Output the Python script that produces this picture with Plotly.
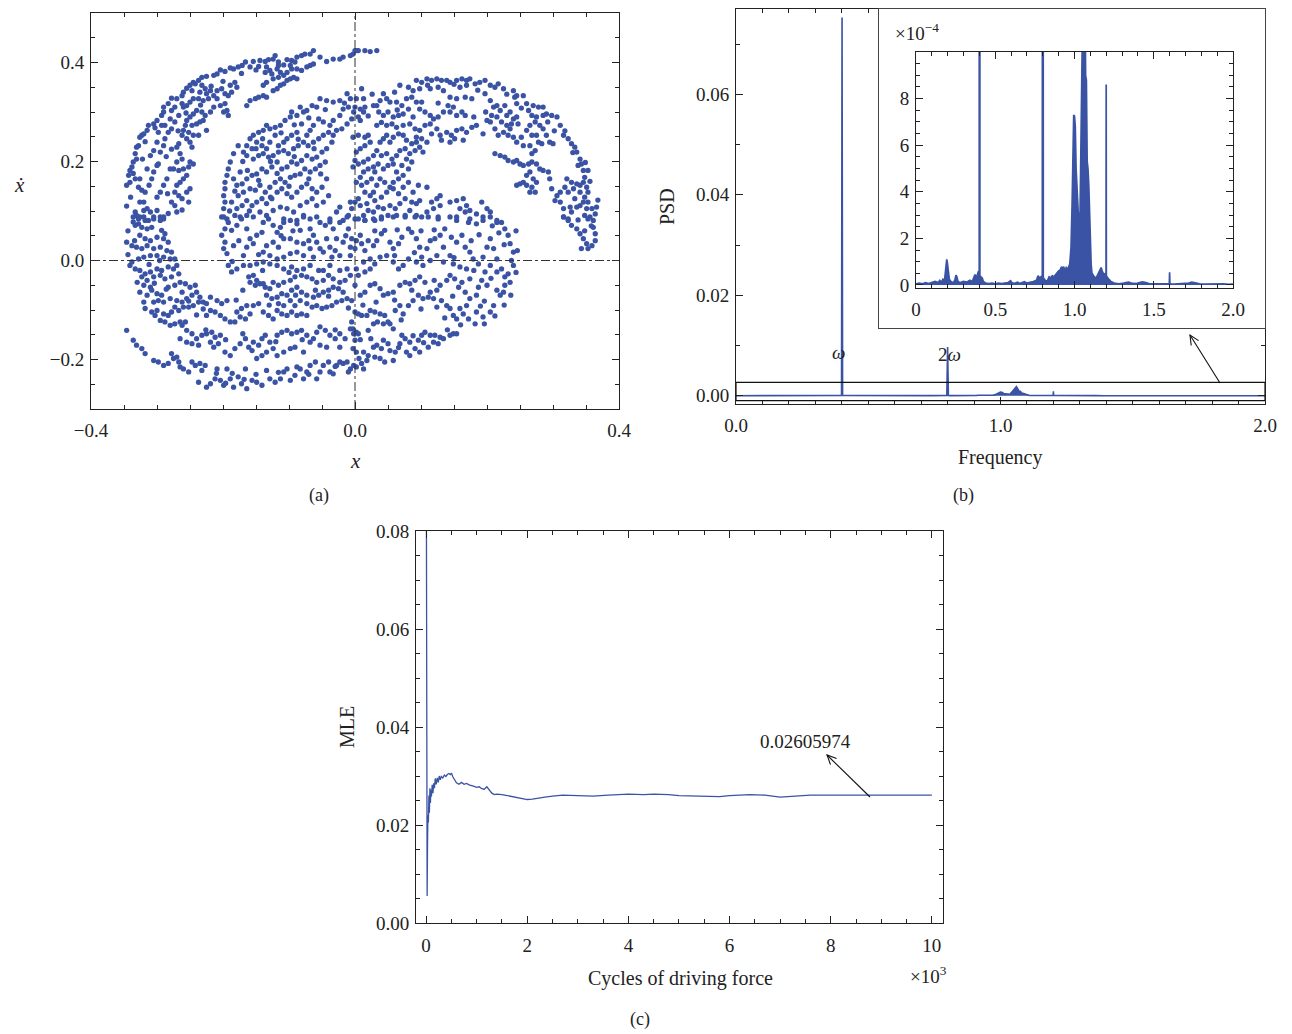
import plotly.graph_objects as go

# ---------------- Panel (a): Poincare section points (x, xdot) ----------------
OUTER_ARC = [
(0.003,0.424),(-0.007,0.414),(-0.018,0.411),(-0.023,0.407),(-0.033,0.407),(-0.043,0.402),(-0.053,0.411),(-0.063,0.424),
(-0.068,0.417),(-0.076,0.417),(-0.081,0.414),(-0.088,0.411),(-0.096,0.404),(-0.103,0.406),(-0.108,0.395),(-0.116,0.401),
(-0.121,0.414),(-0.124,0.407),(-0.131,0.406),(-0.136,0.402),(-0.144,0.404),(-0.154,0.402),(-0.159,0.391),(-0.166,0.401),
(-0.171,0.394),(-0.177,0.391),(-0.184,0.387),(-0.189,0.389),(-0.197,0.382),(-0.204,0.385),(-0.209,0.377),(-0.214,0.374),
(-0.225,0.372),(-0.232,0.370),(-0.237,0.364),(-0.245,0.360),(-0.250,0.354),(-0.255,0.348),(-0.260,0.340),(-0.262,0.333),
(-0.270,0.327),(-0.278,0.328),(-0.283,0.317),(-0.290,0.310),(-0.293,0.293),(-0.300,0.283),(-0.305,0.276),(-0.313,0.273),
(-0.315,0.263),(-0.320,0.256),(-0.323,0.253),(-0.326,0.249),(-0.328,0.232),(-0.331,0.229),(-0.333,0.216),(-0.331,0.205),
(-0.336,0.199),(-0.338,0.189),(-0.341,0.182),(-0.343,0.172),(-0.346,0.152),(-0.341,0.158),(-0.333,0.165),(-0.326,0.165),
(-0.328,0.148),(-0.323,0.142),(-0.318,0.138),(-0.320,0.118),(-0.326,0.118),(-0.333,0.098),(-0.331,0.091),(-0.326,0.088),
(-0.320,0.101),(-0.315,0.105),(-0.310,0.098),(-0.305,0.088),(-0.300,0.101),(-0.295,0.088),(-0.290,0.084),(-0.336,0.078),
(-0.328,0.074),(-0.318,0.081),
(-0.232,0.354),(-0.227,0.347),(-0.219,0.343),(-0.225,0.337),(-0.214,0.333),(-0.209,0.343),(-0.202,0.347),(-0.197,0.337),
(-0.192,0.333),(-0.187,0.340),(-0.182,0.360),(-0.179,0.350),(-0.189,0.354),(-0.235,0.340),(-0.237,0.327),(-0.230,0.323),
(-0.222,0.327),(-0.209,0.327),(-0.204,0.313),(-0.197,0.317),(-0.199,0.300),(-0.192,0.293),(-0.194,0.303),(-0.214,0.310),
(-0.219,0.300),(-0.227,0.293),(-0.232,0.300),(-0.240,0.303),(-0.245,0.296),(-0.250,0.290),(-0.255,0.283),(-0.257,0.273),
(-0.260,0.263),(-0.252,0.259),(-0.247,0.273),(-0.240,0.276),(-0.235,0.280),(-0.230,0.283),(-0.225,0.263),(-0.237,0.253),
(-0.245,0.253),(-0.250,0.239),(-0.247,0.229),(-0.255,0.246),(-0.262,0.253),(-0.267,0.236),(-0.270,0.229),(-0.265,0.216),
(-0.262,0.205),(-0.270,0.199),(-0.275,0.185),(-0.267,0.182),(-0.260,0.185),(-0.252,0.189),(-0.250,0.199),(-0.245,0.195),
(-0.255,0.172),(-0.260,0.165),(-0.265,0.158),(-0.270,0.152),(-0.273,0.138),(-0.267,0.131),(-0.262,0.125),(-0.255,0.138),
(-0.250,0.145),(-0.252,0.118),(-0.273,0.111),(-0.270,0.098),(-0.280,0.185),(-0.285,0.165),(-0.290,0.152),(-0.295,0.138),
(-0.298,0.195),(-0.300,0.192),(-0.305,0.179),(-0.308,0.165),(-0.315,0.185),(-0.310,0.212),(-0.305,0.222),(-0.295,0.219),
(-0.290,0.232),(-0.300,0.239),(-0.288,0.246),(-0.283,0.259),(-0.288,0.273),(-0.280,0.286),(-0.293,0.273),(-0.298,0.259),
(-0.278,0.303),(-0.273,0.310),(-0.262,0.317),(-0.255,0.313),(-0.250,0.320),(-0.245,0.327),(-0.247,0.343),(-0.242,0.357),
(-0.260,0.310),(-0.267,0.293),(-0.273,0.280),(-0.278,0.266),
(-0.164,0.313),(-0.159,0.323),(-0.151,0.327),(-0.146,0.330),(-0.139,0.333),(-0.134,0.330),(-0.124,0.343),(-0.118,0.347),
(-0.113,0.354),(-0.108,0.357),(-0.103,0.364),(-0.098,0.367),(-0.093,0.370),(-0.088,0.367),(-0.081,0.384),(-0.073,0.391),
(-0.068,0.394),(-0.063,0.397),(-0.096,0.387),(-0.103,0.380),(-0.108,0.374),(-0.116,0.370),(-0.124,0.367),(-0.134,0.360),
(-0.139,0.354),(-0.136,0.380),(-0.134,0.391),(-0.129,0.384),(-0.126,0.377),(-0.118,0.387),(-0.113,0.380),(-0.098,0.394),
(-0.091,0.401),(-0.088,0.387),
(-0.290,0.300),(-0.303,0.268),(-0.318,0.240),(-0.322,0.205),(-0.336,0.176),(-0.312,0.152),(-0.284,0.135),(-0.278,0.118),
(-0.300,0.128),(-0.340,0.128),(-0.346,0.110),(-0.283,0.095),(-0.262,0.102),(-0.286,0.210),(-0.278,0.225),(-0.268,0.262),
(-0.256,0.298),(-0.234,0.314),(-0.218,0.352),(-0.200,0.362),(-0.172,0.378),(-0.150,0.385),(-0.116,0.394),(-0.146,0.392),
]

INNER_LEFT = [
(-0.012,0.337),(-0.023,0.323),(-0.033,0.320),(-0.043,0.323),(-0.053,0.327),(-0.058,0.310),(-0.065,0.313),(-0.073,0.303),
(-0.078,0.300),(-0.083,0.310),(-0.088,0.293),(-0.096,0.300),(-0.098,0.290),(-0.106,0.283),(-0.113,0.273),(-0.121,0.269),
(-0.129,0.266),(-0.134,0.273),(-0.139,0.263),(-0.146,0.259),(-0.154,0.253),(-0.159,0.246),(-0.164,0.232),(-0.169,0.219),
(-0.177,0.232),(-0.184,0.216),(-0.189,0.199),(-0.192,0.185),(-0.194,0.172),(-0.197,0.158),(-0.197,0.145),(-0.199,0.131),
(-0.197,0.118),(-0.199,0.105),(-0.202,0.088),(-0.194,0.084),
(-0.007,0.327),(-0.010,0.310),(-0.018,0.306),(-0.023,0.293),(-0.033,0.283),(-0.038,0.273),(-0.048,0.280),(-0.055,0.286),
(-0.063,0.273),(-0.068,0.263),(-0.073,0.253),(-0.081,0.276),(-0.088,0.259),(-0.096,0.253),(-0.103,0.246),(-0.108,0.239),
(-0.116,0.232),(-0.121,0.253),(-0.129,0.239),(-0.134,0.226),(-0.141,0.232),(-0.149,0.239),(-0.156,0.226),(-0.164,0.212),
(-0.154,0.205),(-0.146,0.212),(-0.139,0.216),(-0.131,0.209),(-0.124,0.212),(-0.116,0.219),(-0.108,0.222),(-0.101,0.216),
(-0.093,0.226),(-0.086,0.232),(-0.078,0.239),(-0.071,0.232),(-0.063,0.239),(-0.055,0.246),(-0.048,0.253),(-0.040,0.259),
(-0.033,0.253),(-0.028,0.263),(-0.020,0.266),(-0.012,0.276),(-0.005,0.286),(-0.002,0.300),(-0.035,0.239),(-0.043,0.226),
(-0.050,0.219),(-0.058,0.209),(-0.065,0.205),(-0.073,0.212),(-0.081,0.202),(-0.088,0.195),(-0.096,0.199),(-0.103,0.189),
(-0.111,0.185),(-0.118,0.199),(-0.126,0.189),(-0.134,0.179),(-0.141,0.185),(-0.149,0.175),(-0.156,0.172),(-0.164,0.165),
(-0.171,0.155),(-0.179,0.152),(-0.184,0.165),(-0.174,0.179),(-0.177,0.131),(-0.169,0.138),(-0.159,0.145),(-0.151,0.142),
(-0.144,0.152),(-0.136,0.138),(-0.129,0.148),(-0.121,0.158),(-0.113,0.165),(-0.106,0.158),(-0.098,0.168),(-0.091,0.172),
(-0.083,0.175),(-0.076,0.185),(-0.068,0.179),(-0.060,0.185),(-0.053,0.192),(-0.045,0.199),(-0.043,0.165),(-0.050,0.148),
(-0.058,0.138),(-0.065,0.145),(-0.073,0.155),(-0.081,0.148),(-0.088,0.138),(-0.096,0.128),(-0.103,0.135),(-0.111,0.145),
(-0.118,0.138),(-0.126,0.125),(-0.134,0.115),(-0.141,0.125),(-0.149,0.118),(-0.156,0.111),(-0.164,0.121),(-0.171,0.111),
(-0.179,0.105),(-0.187,0.118),(-0.182,0.091),(-0.174,0.088),(-0.164,0.091),(-0.154,0.088),(-0.144,0.098),(-0.134,0.091),
(-0.124,0.101),(-0.113,0.108),(-0.103,0.105),(-0.093,0.098),(-0.083,0.111),(-0.073,0.118),(-0.065,0.125),(-0.058,0.111),
(-0.048,0.118),(-0.040,0.131),(-0.078,0.091),(-0.068,0.084),(-0.088,0.081),(-0.108,0.084),(-0.058,0.088),(-0.007,0.118),
(-0.005,0.105),(-0.010,0.091),(-0.028,0.098),(-0.018,0.081),(-0.038,0.078),(-0.023,0.108),
(-0.016,0.318),(-0.045,0.305),(-0.070,0.288),(-0.092,0.274),(-0.112,0.258),(-0.140,0.246),(-0.170,0.200),(-0.182,0.140),
(-0.190,0.100),(-0.160,0.100),(-0.128,0.128),(-0.100,0.150),(-0.070,0.165),(-0.052,0.175),(-0.062,0.226),(-0.086,0.245),
(-0.118,0.176),(-0.146,0.162),(-0.163,0.182),(-0.150,0.226),(-0.128,0.200),(-0.092,0.210),
]

UPPER_RIGHT = [
(0.000,0.424),(0.005,0.424),(0.015,0.424),(0.023,0.422),(0.033,0.424),(-0.003,0.417),
(0.010,0.347),(0.002,0.327),(0.013,0.327),(0.000,0.310),(0.008,0.306),(0.013,0.300),(0.005,0.290),(0.008,0.283),(0.015,0.310),
(0.093,0.364),(0.101,0.360),(0.109,0.367),(0.116,0.364),(0.124,0.367),(0.131,0.364),(0.139,0.364),(0.144,0.360),
(0.154,0.364),(0.162,0.367),(0.169,0.364),(0.174,0.367),(0.182,0.357),(0.189,0.360),(0.197,0.364),(0.205,0.354),
(0.212,0.350),(0.217,0.357),(0.225,0.347),(0.240,0.343),(0.245,0.333),(0.255,0.333),(0.068,0.354),(0.081,0.350),
(0.088,0.343),(0.098,0.347),(0.114,0.347),(0.126,0.350),(0.134,0.343),(0.159,0.350),(0.169,0.354),(0.197,0.337),
(0.043,0.337),(0.048,0.327),(0.038,0.323),(0.033,0.313),(0.028,0.313),(0.053,0.320),(0.063,0.320),(0.071,0.313),
(0.078,0.327),(0.086,0.330),(0.093,0.320),(0.101,0.320),(0.098,0.306),(0.106,0.300),(0.114,0.293),(0.119,0.286),
(0.126,0.290),(0.134,0.300),(0.141,0.313),(0.144,0.300),(0.149,0.310),(0.154,0.293),(0.162,0.300),(0.167,0.293),
(0.177,0.327),(0.154,0.327),(0.144,0.330),(0.167,0.330),(0.081,0.306),(0.073,0.296),(0.066,0.293),(0.058,0.290),
(0.050,0.300),(0.043,0.293),(0.040,0.279),(0.033,0.273),(0.048,0.273),(0.056,0.276),(0.063,0.269),(0.073,0.273),
(0.083,0.276),(0.091,0.266),(0.098,0.263),(0.106,0.273),(0.114,0.276),(0.124,0.266),(0.129,0.253),(0.139,0.259),
(0.146,0.253),(0.154,0.263),(0.162,0.266),(0.169,0.259),(0.177,0.269),(0.184,0.273),(0.194,0.256),(0.116,0.256),
(0.131,0.243),(0.144,0.239),(0.151,0.246),(0.164,0.243),(0.109,0.239),(0.101,0.246),(0.093,0.249),
(0.205,0.323),(0.210,0.310),(0.215,0.313),(0.220,0.303),(0.227,0.313),(0.230,0.293),(0.235,0.300),(0.240,0.286),
(0.245,0.290),(0.247,0.276),(0.237,0.276),(0.230,0.273),(0.222,0.280),(0.215,0.290),(0.207,0.293),(0.205,0.280),
(0.200,0.283),(0.212,0.266),(0.217,0.253),(0.225,0.259),(0.232,0.253),(0.240,0.249),(0.245,0.239),(0.252,0.249),
(0.255,0.232),(0.265,0.232),(0.260,0.263),(0.265,0.273),(0.273,0.280),(0.275,0.290),(0.268,0.293),(0.263,0.303),
(0.270,0.313),(0.278,0.310),(0.285,0.310),(0.260,0.317),(0.245,0.317),(0.242,0.330),(0.285,0.293),(0.290,0.296),
(0.298,0.293),(0.306,0.290),(0.280,0.273),(0.285,0.266),(0.268,0.253),(0.275,0.253),(0.278,0.239),(0.283,0.236),
(0.273,0.222),(0.268,0.216),(0.290,0.253),(0.295,0.239),(0.300,0.236),(0.235,0.266),
(0.020,0.292),(0.026,0.336),(0.060,0.340),(0.110,0.354),(0.150,0.356),(0.186,0.344),(0.230,0.336),(0.252,0.308),
(0.292,0.280),(0.302,0.262),(0.198,0.300),(0.180,0.290),(0.126,0.318),(0.088,0.290),(0.064,0.304),(0.036,0.300),
]

RIGHT_CRESCENT = [
(0.311,0.273),(0.316,0.253),(0.323,0.246),(0.328,0.236),(0.333,0.229),(0.336,0.219),(0.341,0.205),(0.343,0.195),
(0.338,0.192),(0.346,0.182),(0.353,0.182),(0.348,0.168),(0.346,0.158),(0.341,0.152),(0.336,0.155),(0.328,0.158),
(0.321,0.165),(0.318,0.148),(0.323,0.138),(0.331,0.145),(0.341,0.138),(0.351,0.148),(0.353,0.138),(0.348,0.128),
(0.346,0.118),(0.353,0.118),(0.359,0.105),(0.366,0.108),(0.364,0.094),(0.356,0.088),(0.348,0.091),(0.341,0.111),
(0.336,0.108),(0.326,0.108),(0.316,0.105),(0.311,0.118),(0.303,0.121),(0.306,0.131),(0.311,0.138),(0.298,0.145),
(0.295,0.165),(0.293,0.179),(0.285,0.182),(0.280,0.185),(0.316,0.088),(0.323,0.084),(0.328,0.098),(0.351,0.105),
(0.333,0.125),
(0.212,0.216),(0.220,0.212),(0.227,0.209),(0.232,0.202),(0.240,0.199),(0.245,0.202),(0.250,0.195),(0.255,0.192),
(0.263,0.195),(0.268,0.199),(0.275,0.195),(0.265,0.179),(0.260,0.172),(0.255,0.158),(0.250,0.155),(0.260,0.152),
(0.268,0.148),(0.273,0.138),(0.265,0.138),(0.245,0.152),(0.270,0.165),(0.275,0.158),
(0.316,0.088),(0.323,0.081),(0.328,0.071),(0.336,0.064),(0.341,0.054),(0.346,0.044),(0.351,0.034),(0.343,0.024),
(0.353,0.024),(0.359,0.030),(0.364,0.040),(0.364,0.054),(0.361,0.067),(0.361,0.081),(0.353,0.084),
(0.318,0.262),(0.330,0.218),(0.349,0.198),(0.356,0.160),(0.368,0.122),(0.358,0.070),(0.348,0.060),(0.338,0.082),
]

MIDDLE_RIGHT = [
(-0.003,0.249),(0.005,0.253),(0.015,0.249),(0.020,0.253),(0.023,0.239),(0.015,0.232),(0.008,0.226),(0.002,0.219),
(0.000,0.202),(-0.003,0.189),(0.005,0.195),(0.013,0.199),(0.020,0.205),(0.028,0.212),(0.033,0.222),(0.038,0.239),
(0.043,0.246),(0.048,0.253),(0.053,0.239),(0.058,0.249),(0.066,0.256),(0.073,0.253),(0.078,0.243),(0.086,0.236),
(0.093,0.239),(0.098,0.229),(0.103,0.219),(0.091,0.222),(0.083,0.216),(0.076,0.226),(0.068,0.222),(0.063,0.212),
(0.056,0.205),(0.048,0.216),(0.040,0.212),(0.035,0.195),(0.028,0.189),(0.020,0.185),(0.013,0.179),(0.008,0.168),
(0.002,0.158),(0.010,0.152),(0.018,0.158),(0.025,0.165),(0.030,0.179),(0.043,0.185),(0.050,0.192),(0.058,0.195),
(0.063,0.179),(0.071,0.192),(0.078,0.205),(0.086,0.199),(0.081,0.185),(0.073,0.172),(0.066,0.165),(0.058,0.158),
(0.053,0.148),(0.045,0.158),(0.038,0.165),(0.033,0.152),(0.028,0.138),(0.023,0.131),(0.015,0.138),(0.005,0.125),
(0.000,0.118),(0.008,0.111),(0.018,0.115),(0.030,0.121),(0.040,0.128),(0.048,0.138),(0.058,0.145),(0.066,0.135),
(0.073,0.148),(0.081,0.158),(0.088,0.138),(0.096,0.152),(0.109,0.148),(0.098,0.121),(0.093,0.115),(0.086,0.118),
(0.076,0.125),(0.068,0.115),(0.061,0.105),(0.053,0.111),(0.043,0.105),(0.035,0.108),(0.028,0.098),(0.020,0.101),
(0.013,0.091),(0.005,0.084),(0.015,0.081),(0.030,0.081),(0.040,0.088),(0.050,0.091),(0.063,0.091),(0.076,0.091),
(0.083,0.101),(0.093,0.091),(0.101,0.088),(0.109,0.098),(0.116,0.118),(0.124,0.125),(0.129,0.131),(0.144,0.118),
(0.154,0.121),(0.164,0.125),(0.169,0.111),(0.159,0.105),(0.167,0.098),(0.174,0.101),(0.184,0.094),(0.192,0.118),
(0.200,0.105),(0.205,0.098),(0.215,0.081),(0.194,0.088),(0.174,0.084),(0.154,0.088),(0.129,0.111),(0.119,0.105),
(0.126,0.088),
(0.000,0.084),(0.015,0.081),(0.028,0.084),(0.040,0.084),(0.058,0.088),(0.076,0.088),(0.091,0.088),(0.111,0.088),
(0.126,0.084),(0.144,0.088),(0.154,0.081),(0.172,0.077),(0.184,0.074),(0.194,0.081),(0.205,0.088),(0.215,0.077),
(0.222,0.077),(0.227,0.064),(0.232,0.051),(0.235,0.034),(0.240,0.017),(0.237,0.000),(0.240,-0.010),(0.232,-0.027),
(0.235,-0.044),(0.227,-0.050),(0.225,-0.064),(0.215,-0.060),(0.220,-0.070),(0.210,-0.091),(0.205,-0.104),(0.194,-0.114),
(0.184,-0.104),(0.182,-0.128),(0.169,-0.091),(0.164,-0.108),(0.159,-0.097),(0.154,-0.118),(0.149,-0.111),(0.144,-0.097),
(0.139,-0.091),(0.131,-0.081),(0.124,-0.094),(0.119,-0.077),(0.111,-0.074),(0.103,-0.077),(0.096,-0.070),(0.088,-0.081),
(0.081,-0.091),(0.073,-0.108),(0.068,-0.091),(0.061,-0.101),(0.053,-0.128),(0.058,-0.138),(0.045,-0.111),(0.038,-0.108),
(0.030,-0.104),(0.023,-0.101),(0.018,-0.111),(0.010,-0.111),(0.005,-0.108),(0.000,-0.104),(-0.005,-0.124),(0.002,-0.145),
(0.020,-0.141),(0.028,-0.128),(0.043,-0.128),(0.050,-0.124),
(0.008,0.051),(0.002,0.040),(0.010,0.034),(0.000,0.024),(0.015,0.020),(0.028,0.030),(0.033,0.040),(0.040,0.054),
(0.045,0.061),(0.053,0.037),(0.058,0.024),(0.066,0.034),(0.071,0.047),(0.081,0.064),(0.086,0.057),(0.093,0.044),
(0.098,0.027),(0.109,0.024),(0.114,0.040),(0.121,0.044),(0.129,0.051),(0.136,0.064),(0.146,0.047),(0.154,0.037),
(0.162,0.051),(0.167,0.027),(0.174,0.017),(0.179,0.003),(0.187,-0.007),(0.194,0.007),(0.200,0.027),(0.205,0.044),
(0.210,0.024),(0.215,0.003),(0.222,-0.017),(0.227,-0.033),(0.215,-0.023),(0.205,-0.010),(0.197,-0.023),(0.192,-0.040),
(0.200,-0.050),(0.187,-0.054),(0.184,-0.070),(0.174,-0.077),(0.167,-0.064),(0.162,-0.044),(0.157,-0.054),(0.151,-0.037),
(0.144,-0.030),(0.139,-0.040),(0.129,-0.050),(0.124,-0.060),(0.114,-0.064),(0.106,-0.044),(0.098,-0.033),(0.091,-0.040),
(0.083,-0.047),(0.076,-0.044),(0.068,-0.050),(0.058,-0.064),(0.050,-0.067),(0.043,-0.070),(0.038,-0.057),(0.030,-0.047),
(0.023,-0.050),(0.015,-0.064),(0.008,-0.070),(0.000,-0.050),(0.005,-0.030),(0.015,-0.023),(0.023,-0.017),(0.030,-0.007),
(0.038,0.007),(0.048,0.010),(0.058,-0.003),(0.066,-0.017),(0.073,-0.010),(0.081,0.003),(0.093,-0.003),(0.103,-0.010),
(0.114,0.000),(0.124,0.010),(0.134,-0.003),(0.144,0.010),(0.149,-0.007),(0.159,-0.013),(0.169,-0.017),(0.174,-0.037),
(0.134,0.027),(0.101,0.007),(0.023,0.003),(0.013,-0.003),(0.002,-0.017),
(0.244,0.060),(0.246,0.020),(0.244,-0.024),(0.236,-0.070),(0.226,-0.090),(0.212,-0.112),(0.196,-0.128),(0.172,-0.118),
(0.226,0.032),(0.218,0.056),(0.208,0.070),(0.188,0.052),(0.176,0.040),(0.120,0.062),(0.100,0.060),(0.064,0.062),
(0.030,0.060),(0.020,0.040),(0.060,0.010),(0.090,0.016),(0.150,0.006),(0.180,-0.020),(0.206,-0.036),(0.196,-0.082),
(0.148,-0.072),(0.120,-0.040),(0.086,-0.060),(0.060,-0.080),(0.032,-0.084),(0.012,-0.090),(0.034,-0.124),(0.070,-0.120),
(0.100,-0.098),(0.136,-0.116),(0.160,-0.130),(0.190,-0.092),
]

LOWER_RIGHT = [
(-0.003,-0.138),(0.005,-0.148),(0.000,-0.161),(-0.003,-0.178),(0.002,-0.185),(0.013,-0.185),(0.020,-0.192),(0.018,-0.202),
(0.010,-0.208),(0.002,-0.215),(0.013,-0.219),(0.028,-0.175),(0.033,-0.171),(0.040,-0.178),(0.043,-0.161),(0.050,-0.168),
(0.053,-0.182),(0.061,-0.185),(0.058,-0.202),(0.045,-0.205),(0.038,-0.198),(0.068,-0.168),(0.071,-0.151),(0.076,-0.158),
(0.083,-0.165),(0.078,-0.185),(0.091,-0.178),(0.096,-0.161),(0.101,-0.151),(0.106,-0.145),(0.114,-0.151),(0.119,-0.165),
(0.121,-0.151),(0.129,-0.155),(0.134,-0.158),(0.126,-0.168),(0.111,-0.175),(0.144,-0.151),(0.149,-0.148),(0.154,-0.148),
(0.098,-0.185),(0.083,-0.192),
(0.008,-0.160),(0.024,-0.158),(0.030,-0.195),(0.066,-0.176),(0.088,-0.152),(0.140,-0.140),(0.104,-0.166),(0.006,-0.198),
]

LOWER_LEFT = [
(-0.336,0.088),(-0.328,0.084),(-0.320,0.088),(-0.313,0.081),(-0.305,0.084),(-0.295,0.081),(-0.290,0.088),(-0.333,0.071),
(-0.323,0.067),(-0.315,0.064),(-0.308,0.067),(-0.293,0.061),(-0.288,0.054),(-0.326,0.051),(-0.318,0.044),(-0.310,0.040),
(-0.300,0.047),(-0.290,0.044),(-0.283,0.037),(-0.346,0.037),(-0.338,0.030),(-0.331,0.027),(-0.323,0.024),(-0.315,0.030),
(-0.305,0.024),(-0.295,0.027),(-0.285,0.020),(-0.278,0.017),(-0.273,0.003),(-0.280,0.003),(-0.290,0.007),(-0.300,0.010),
(-0.310,0.010),(-0.320,0.007),(-0.328,0.003),(-0.338,-0.003),(-0.341,-0.010),(-0.333,-0.017),(-0.326,-0.020),(-0.318,-0.027),
(-0.310,-0.023),(-0.300,-0.017),(-0.293,-0.020),(-0.283,-0.013),(-0.275,-0.017),(-0.270,-0.010),(-0.323,-0.033),(-0.315,-0.040),
(-0.305,-0.033),(-0.295,-0.030),(-0.288,-0.037),(-0.278,-0.033),(-0.267,-0.027),(-0.320,-0.050),(-0.310,-0.054),(-0.326,-0.064),
(-0.315,-0.070),(-0.308,-0.060),(-0.300,-0.067),(-0.293,-0.070),(-0.283,-0.054),(-0.273,-0.050),(-0.265,-0.044),(-0.257,-0.047),
(-0.250,-0.054),(-0.242,-0.050),(-0.240,-0.064),(-0.247,-0.070),(-0.255,-0.077),(-0.262,-0.084),(-0.270,-0.081),(-0.280,-0.077),
(-0.290,-0.084),(-0.298,-0.081),(-0.305,-0.084),(-0.320,-0.084),(-0.318,-0.097),(-0.308,-0.104),(-0.300,-0.101),(-0.290,-0.108),
(-0.283,-0.111),(-0.278,-0.104),(-0.273,-0.094),(-0.267,-0.101),(-0.260,-0.094),(-0.252,-0.094),(-0.245,-0.091),(-0.237,-0.084),
(-0.230,-0.084),(-0.235,-0.074),(-0.303,-0.111),(-0.295,-0.121),(-0.288,-0.124),(-0.280,-0.131),(-0.273,-0.128),(-0.265,-0.124),
(-0.257,-0.124),
(-0.219,-0.074),(-0.209,-0.081),(-0.202,-0.087),(-0.194,-0.081),(-0.225,-0.087),(-0.219,-0.101),(-0.225,-0.111),(-0.212,-0.104),
(-0.204,-0.111),(-0.197,-0.118),(-0.189,-0.124),(-0.182,-0.124),(-0.174,-0.114),(-0.166,-0.118),(-0.159,-0.108),(-0.179,-0.104),
(-0.172,-0.097),(-0.164,-0.091),(-0.154,-0.091),(-0.146,-0.087),(-0.139,-0.104),(-0.131,-0.111),(-0.124,-0.118),(-0.118,-0.101),
(-0.111,-0.108),(-0.103,-0.111),(-0.096,-0.104),(-0.088,-0.111),(-0.081,-0.108),(-0.073,-0.111),(-0.116,-0.087),(-0.108,-0.091),
(-0.098,-0.081),(-0.091,-0.091),(-0.083,-0.081),(-0.073,-0.087),(-0.065,-0.094),(-0.058,-0.091),(-0.050,-0.097),(-0.043,-0.094),
(-0.035,-0.091),(-0.028,-0.084),(-0.020,-0.081),(-0.012,-0.077),(-0.005,-0.081),(-0.018,-0.064),(-0.025,-0.057),(-0.033,-0.054),
(-0.040,-0.060),(-0.048,-0.064),(-0.055,-0.070),(-0.063,-0.074),(-0.073,-0.070),(-0.081,-0.064),(-0.088,-0.054),(-0.096,-0.060),
(-0.103,-0.070),(-0.111,-0.067),(-0.118,-0.074),(-0.126,-0.077),(-0.134,-0.070),(-0.129,-0.057),(-0.136,-0.054),(-0.144,-0.047),
(-0.149,-0.040),(-0.154,-0.030),(-0.161,-0.033),(-0.159,-0.044),(-0.151,-0.050),(-0.139,-0.047),(-0.124,-0.044),(-0.116,-0.050),
(-0.108,-0.044),(-0.098,-0.040),(-0.091,-0.033),(-0.081,-0.030),(-0.073,-0.033),(-0.065,-0.037),(-0.058,-0.044),(-0.048,-0.040),
(-0.040,-0.030),(-0.033,-0.037),(-0.023,-0.044),(-0.015,-0.040),(-0.007,-0.030),(-0.012,-0.017),(-0.023,-0.020),(-0.038,-0.010),
(-0.048,-0.020),(-0.055,-0.020),(-0.068,-0.010),(-0.078,-0.017),(-0.088,-0.020),(-0.096,-0.013),(-0.108,-0.017),(-0.118,-0.010),
(-0.129,-0.007),(-0.139,-0.003),(-0.149,-0.007),(-0.159,-0.010),(-0.169,-0.010),(-0.179,-0.017),(-0.187,-0.023),(-0.192,-0.010),
(-0.199,0.088),(-0.192,0.077),(-0.197,0.064),(-0.202,0.051),(-0.197,0.037),(-0.199,0.024),(-0.194,0.014),(-0.187,0.061),
(-0.179,0.071),(-0.172,0.084),(-0.164,0.064),(-0.159,0.044),(-0.164,0.027),(-0.169,0.010),(-0.154,0.034),(-0.149,0.051),
(-0.141,0.057),(-0.139,0.077),(-0.131,0.084),(-0.124,0.071),(-0.118,0.057),(-0.113,0.067),(-0.108,0.077),(-0.098,0.081),
(-0.088,0.074),(-0.083,0.061),(-0.078,0.088),(-0.068,0.064),(-0.063,0.051),(-0.058,0.037),(-0.053,0.024),(-0.068,0.024),
(-0.078,0.034),(-0.088,0.037),(-0.098,0.044),(-0.108,0.044),(-0.116,0.027),(-0.124,0.037),(-0.134,0.030),(-0.139,0.017),
(-0.129,0.010),(-0.118,0.003),(-0.108,0.007),(-0.098,0.014),(-0.088,0.017),(-0.078,0.010),(-0.063,0.007),(-0.048,0.017),
(-0.038,0.027),(-0.028,0.044),(-0.018,0.037),(-0.007,0.027),(-0.007,0.010),(-0.023,0.010),(-0.035,0.007),(-0.043,0.044),
(-0.033,0.064),(-0.023,0.077),(-0.012,0.088),(-0.038,0.084),(-0.045,0.071),(-0.053,0.077),(-0.010,0.064),(-0.005,0.044),
(-0.344,0.060),(-0.334,0.040),(-0.344,0.012),(-0.312,-0.008),(-0.296,0.000),(-0.286,-0.058),(-0.304,-0.046),(-0.330,-0.044),
(-0.262,-0.064),(-0.252,-0.082),(-0.230,-0.098),(-0.240,-0.110),(-0.186,-0.002),(-0.176,0.040),(-0.184,0.030),(-0.146,0.012),
(-0.112,0.050),(-0.094,0.060),(-0.070,0.040),(-0.030,0.020),(-0.014,0.050),(-0.060,-0.060),(-0.100,-0.024),(-0.140,-0.020),
(-0.170,-0.060),(-0.180,-0.080),(-0.130,-0.090),(-0.090,-0.070),(-0.040,-0.072),(-0.010,-0.096),
]

BOTTOM_BANDS = [
(-0.346,-0.141),(-0.336,-0.161),(-0.331,-0.171),(-0.323,-0.178),(-0.318,-0.188),(-0.305,-0.202),(-0.298,-0.205),(-0.290,-0.212),
(-0.283,-0.208),(-0.275,-0.198),(-0.270,-0.195),(-0.267,-0.205),(-0.265,-0.215),(-0.260,-0.219),(-0.252,-0.225),(-0.247,-0.205),
(-0.242,-0.212),(-0.235,-0.208),(-0.227,-0.212),(-0.237,-0.246),(-0.225,-0.256),(-0.219,-0.249),(-0.212,-0.239),(-0.209,-0.219),
(-0.204,-0.242),(-0.199,-0.252),(-0.194,-0.219),(-0.189,-0.239),(-0.184,-0.256),(-0.177,-0.235),(-0.172,-0.249),(-0.166,-0.219),
(-0.164,-0.259),(-0.156,-0.242),(-0.149,-0.246),(-0.141,-0.252),(-0.134,-0.222),(-0.129,-0.239),(-0.121,-0.246),(-0.113,-0.239),
(-0.108,-0.225),(-0.103,-0.219),(-0.098,-0.242),(-0.091,-0.232),(-0.088,-0.215),(-0.083,-0.219),(-0.078,-0.239),(-0.073,-0.225),
(-0.068,-0.212),(-0.060,-0.205),(-0.058,-0.239),(-0.053,-0.225),(-0.048,-0.212),(-0.040,-0.205),(-0.038,-0.225),(-0.033,-0.229),
(-0.028,-0.212),(-0.023,-0.205),(-0.018,-0.208),(-0.012,-0.205),(-0.007,-0.219),(-0.002,-0.212),(-0.010,-0.225),
(-0.262,-0.131),(-0.255,-0.141),(-0.247,-0.148),(-0.240,-0.158),(-0.232,-0.151),(-0.225,-0.148),(-0.217,-0.145),(-0.212,-0.155),
(-0.207,-0.168),(-0.219,-0.165),(-0.214,-0.175),(-0.204,-0.151),(-0.197,-0.185),(-0.189,-0.192),(-0.182,-0.178),(-0.174,-0.168),
(-0.166,-0.158),(-0.161,-0.175),(-0.154,-0.165),(-0.146,-0.171),(-0.141,-0.158),(-0.136,-0.151),(-0.129,-0.165),(-0.124,-0.178),
(-0.118,-0.151),(-0.111,-0.145),(-0.103,-0.141),(-0.096,-0.148),(-0.088,-0.145),(-0.081,-0.141),(-0.073,-0.151),(-0.068,-0.165),
(-0.063,-0.158),(-0.058,-0.145),(-0.053,-0.134),(-0.045,-0.141),(-0.038,-0.151),(-0.030,-0.158),(-0.023,-0.148),(-0.015,-0.158),
(-0.007,-0.138),(-0.002,-0.148),(-0.134,-0.185),(-0.141,-0.192),(-0.149,-0.198),(-0.156,-0.182),(-0.118,-0.192),(-0.108,-0.185),
(-0.098,-0.178),(-0.091,-0.175),(-0.078,-0.185),(-0.043,-0.175),(-0.053,-0.171),(-0.023,-0.175),(-0.265,-0.158),(-0.255,-0.165),
(-0.247,-0.168),(-0.237,-0.171),
(-0.210,-0.228),(-0.186,-0.228),(-0.150,-0.230),(-0.116,-0.226),(-0.070,-0.230),(-0.030,-0.214),(-0.196,-0.248),(-0.168,-0.240),
(-0.232,-0.222),(-0.278,-0.188),(-0.226,-0.140),(-0.196,-0.160),(-0.170,-0.148),(-0.120,-0.164),(-0.080,-0.160),(-0.030,-0.140),
]

# ---------------- Panel (b): power spectral density ----------------
PSD_FREQ = [
0.000,0.020,0.040,0.060,0.080,0.100,0.120,0.140,0.150,0.160,0.170,0.180,0.185,0.190,0.194,0.198,0.202,0.206,0.210,0.220,
0.235,0.245,0.252,0.258,0.265,0.280,0.300,0.320,0.340,0.355,0.365,0.372,0.380,0.388,0.395,0.399,0.401,0.403,0.410,0.418,
0.425,0.440,0.460,0.480,0.500,0.520,0.540,0.560,0.580,0.590,0.597,0.605,0.620,0.640,0.655,0.670,0.685,0.700,0.720,0.740,
0.760,0.770,0.780,0.790,0.797,0.800,0.803,0.810,0.820,0.830,0.840,0.850,0.860,0.870,0.880,0.890,0.900,0.910,0.918,0.925,
0.932,0.940,0.948,0.955,0.962,0.970,0.978,0.985,0.990,0.995,1.000,1.005,1.010,1.015,1.020,1.025,1.030,1.035,1.040,1.045,
1.050,1.055,1.060,1.065,1.070,1.075,1.080,1.085,1.090,1.095,1.100,1.105,1.110,1.120,1.130,1.140,1.150,1.160,1.168,1.175,
1.185,1.195,1.199,1.200,1.201,1.210,1.220,1.230,1.250,1.280,1.310,1.340,1.360,1.390,1.410,1.430,1.450,1.470,1.500,1.530,
1.560,1.580,1.598,1.600,1.602,1.630,1.660,1.690,1.720,1.740,1.760,1.790,1.820,1.860,1.900,1.940,1.970,2.000,
]
PSD_VAL = [
0.05e-4,0.08e-4,0.05e-4,0.10e-4,0.06e-4,0.12e-4,0.15e-4,0.10e-4,0.20e-4,0.12e-4,0.25e-4,0.20e-4,0.50e-4,0.95e-4,1.10e-4,0.95e-4,0.70e-4,0.35e-4,0.25e-4,0.15e-4,
0.10e-4,0.20e-4,0.42e-4,0.35e-4,0.15e-4,0.10e-4,0.15e-4,0.12e-4,0.20e-4,0.15e-4,0.35e-4,0.45e-4,0.30e-4,0.50e-4,0.60e-4,0.50e-4,753e-4,0.40e-4,0.35e-4,0.30e-4,
0.15e-4,0.08e-4,0.06e-4,0.08e-4,0.05e-4,0.08e-4,0.06e-4,0.08e-4,0.10e-4,0.15e-4,0.18e-4,0.10e-4,0.06e-4,0.12e-4,0.06e-4,0.10e-4,0.14e-4,0.08e-4,0.10e-4,0.15e-4,
0.20e-4,0.40e-4,0.30e-4,0.35e-4,0.40e-4,97e-4,0.30e-4,0.25e-4,0.15e-4,0.20e-4,0.35e-4,0.30e-4,0.40e-4,0.35e-4,0.45e-4,0.50e-4,0.60e-4,0.65e-4,0.78e-4,0.70e-4,
0.78e-4,0.60e-4,0.75e-4,0.70e-4,0.75e-4,0.90e-4,1.60e-4,3.50e-4,6.00e-4,7.30e-4,7.25e-4,6.80e-4,5.00e-4,3.70e-4,3.60e-4,2.90e-4,3.10e-4,3.00e-4,5.50e-4,8.50e-4,
11.0e-4,16.0e-4,18.0e-4,14.0e-4,9.00e-4,8.80e-4,5.30e-4,5.00e-4,4.30e-4,3.00e-4,1.60e-4,0.90e-4,0.50e-4,0.40e-4,0.30e-4,0.35e-4,0.50e-4,0.60e-4,0.75e-4,0.60e-4,
0.45e-4,0.50e-4,0.40e-4,8.60e-4,0.40e-4,0.30e-4,0.20e-4,0.15e-4,0.08e-4,0.05e-4,0.08e-4,0.12e-4,0.08e-4,0.06e-4,0.10e-4,0.13e-4,0.10e-4,0.06e-4,0.05e-4,0.04e-4,
0.05e-4,0.04e-4,0.05e-4,0.55e-4,0.05e-4,0.04e-4,0.05e-4,0.06e-4,0.08e-4,0.12e-4,0.08e-4,0.05e-4,0.04e-4,0.05e-4,0.04e-4,0.05e-4,0.03e-4,0.04e-4,
]

# ---------------- Panel (c): maximal Lyapunov exponent ----------------
MLE_CYCLES_K = [
0.0,0.012,0.020,0.028,0.035,0.045,0.055,0.065,0.075,0.085,0.095,0.105,0.12,0.135,0.15,0.165,0.18,0.20,0.22,0.24,
0.26,0.28,0.30,0.33,0.36,0.39,0.42,0.45,0.48,0.50,0.53,0.56,0.60,0.65,0.70,0.75,0.80,0.85,0.90,0.95,
1.00,1.05,1.10,1.15,1.20,1.25,1.30,1.35,1.40,1.50,1.60,1.70,1.80,1.90,2.00,2.10,2.20,2.35,2.50,2.70,
3.00,3.30,3.60,4.00,4.30,4.50,4.80,5.00,5.40,5.80,6.00,6.40,6.70,7.00,7.30,7.60,8.00,8.50,9.00,9.50,10.0,
]
MLE_VAL = [
0.115,0.040,0.0055,0.016,0.022,0.0205,0.026,0.0225,0.0275,0.0245,0.0272,0.0258,0.0282,0.0265,0.0285,0.0275,0.0295,0.0283,0.0296,0.0287,
0.0300,0.0292,0.0299,0.0296,0.0302,0.0299,0.0303,0.0305,0.0303,0.0306,0.0298,0.0292,0.0286,0.0283,0.0287,0.0283,0.0285,0.0282,0.0281,0.0279,
0.0277,0.0278,0.0274,0.0273,0.0278,0.0272,0.0265,0.0262,0.0263,0.0262,0.0260,0.0258,0.0255,0.0253,0.0252,0.0253,0.0255,0.0257,0.0259,0.0261,
0.0260,0.0259,0.0261,0.0263,0.0262,0.0263,0.0262,0.0260,0.0259,0.0258,0.0260,0.0262,0.0261,0.0257,0.0259,0.0261,0.0261,0.0261,0.0261,0.0261,0.0261,
]
MLE_FINAL = "0.02605974"

# ---------------- styling ----------------
BLUE = "#3a53a4"
INK = "#222222"
FONT = "Liberation Serif"
W, H = 1292, 1034

all_pts = OUTER_ARC + INNER_LEFT + UPPER_RIGHT + RIGHT_CRESCENT + MIDDLE_RIGHT + LOWER_RIGHT + LOWER_LEFT + BOTTOM_BANDS
AX = [p[0] for p in all_pts]
AY = [p[1] for p in all_pts]


def px(xp):
    return xp / W


def py(yp):
    return 1 - yp / H


def axis(standoff=0, **kw):
    d = dict(showline=True, linecolor=INK, linewidth=1, mirror="ticks", ticks="inside",
             ticklen=7, tickwidth=1, tickcolor=INK, showgrid=False, zeroline=False,
             automargin=False, tickfont=dict(family=FONT, size=19, color=INK), fixedrange=True,
             ticklabelstandoff=standoff)
    d.update(kw)
    return d


def minor(dtick, tick0=0):
    return dict(ticks="inside", ticklen=4, tickwidth=1, tickcolor=INK, dtick=dtick, tick0=tick0, showgrid=False)


def frame_axis(**kw):
    d = dict(range=[0, 1], showline=True, mirror=True, linecolor="#444", linewidth=1, ticks="",
             showticklabels=False, showgrid=False, zeroline=False, automargin=False, fixedrange=True)
    d.update(kw)
    return d


fig = go.Figure()
fig.add_trace(go.Scatter(x=AX, y=AY, mode="markers", marker=dict(size=5.3, color=BLUE),
                         xaxis="x", yaxis="y", hoverinfo="skip"))
fig.add_trace(go.Scatter(x=PSD_FREQ, y=PSD_VAL, mode="lines", line=dict(color=BLUE, width=1.6),
                         fill="tozeroy", fillcolor=BLUE, xaxis="x2", yaxis="y2", hoverinfo="skip"))
fig.add_trace(go.Scatter(x=[0.5], y=[0.5], mode="markers", marker=dict(size=1, color="rgba(0,0,0,0)"),
                         xaxis="x3", yaxis="y3", hoverinfo="skip"))
fig.add_trace(go.Scatter(x=PSD_FREQ, y=PSD_VAL, mode="lines", line=dict(color=BLUE, width=1.7),
                         fill="tozeroy", fillcolor=BLUE, xaxis="x4", yaxis="y4", hoverinfo="skip"))
fig.add_trace(go.Scatter(x=MLE_CYCLES_K, y=MLE_VAL, mode="lines", line=dict(color=BLUE, width=1.3),
                         xaxis="x5", yaxis="y5", hoverinfo="skip"))

fig.update_layout(
    template="none",
    width=W, height=H, margin=dict(l=0, r=0, t=0, b=0, pad=0, autoexpand=False),
    paper_bgcolor="white", plot_bgcolor="white", showlegend=False,
    font=dict(family=FONT, color=INK),
    # (a)
    xaxis=axis(standoff=4, domain=[px(91), px(619)], range=[-0.4, 0.4], anchor="y",
               tickvals=[-0.4, 0.0, 0.4], ticktext=["\u22120.4", "0.0", "0.4"], minor=minor(0.05)),
    yaxis=axis(standoff=2, domain=[py(409), py(13)], range=[-0.3, 0.5], anchor="x",
               tickvals=[-0.2, 0.0, 0.2, 0.4], ticktext=["\u22120.2", "0.0", "0.2", "0.4"], minor=minor(0.05)),
    # (b)
    xaxis2=axis(standoff=4, domain=[px(736), px(1265)], range=[0, 2], anchor="y2",
                tickvals=[0, 1, 2], ticktext=["0.0", "1.0", "2.0"], minor=minor(0.1)),
    yaxis2=axis(standoff=2, domain=[py(404), py(9)], range=[-0.00165, 0.077], anchor="x2",
                tickvals=[0, 0.02, 0.04, 0.06], ticktext=["0.00", "0.02", "0.04", "0.06"], minor=minor(0.01)),
    # inset frame
    xaxis3=frame_axis(domain=[px(879), px(1265)], anchor="y3"),
    yaxis3=frame_axis(domain=[py(328), py(9)], anchor="x3"),
    # inset
    xaxis4=axis(standoff=4, domain=[px(916), px(1233)], range=[0, 2], anchor="y4",
                tickvals=[0, 0.5, 1, 1.5, 2], ticktext=["0", "0.5", "1.0", "1.5", "2.0"], minor=minor(0.1)),
    yaxis4=axis(standoff=2, domain=[py(288), py(52)], range=[-0.000013, 0.001], anchor="x4",
                tickvals=[0, 2e-4, 4e-4, 6e-4, 8e-4], ticktext=["0", "2", "4", "6", "8"], minor=minor(0.5e-4)),
    # (c)
    xaxis5=axis(standoff=5, domain=[px(416), px(943)], range=[-0.2, 10.22], anchor="y5",
                tickvals=[0, 2, 4, 6, 8, 10], ticktext=["0", "2", "4", "6", "8", "10"], minor=minor(0.5)),
    yaxis5=axis(standoff=2, domain=[py(923), py(531)], range=[0, 0.08], anchor="x5",
                tickvals=[0, 0.02, 0.04, 0.06, 0.08], ticktext=["0.00", "0.02", "0.04", "0.06", "0.08"],
                minor=minor(0.005)),
)

# dash-dot axes in (a), zoom box in (b)
fig.add_shape(type="line", xref="x", yref="y", x0=0, x1=0, y0=-0.3, y1=0.5,
              line=dict(color="#333", width=1, dash="dashdot"), layer="above")
fig.add_shape(type="line", xref="x", yref="y", x0=-0.4, x1=0.4, y0=0, y1=0,
              line=dict(color="#333", width=1, dash="dashdot"), layer="above")
fig.add_shape(type="rect", xref="x2", yref="y2", x0=0, x1=2, y0=-0.00099, y1=0.00266,
              line=dict(color="#111", width=1.2), layer="above")


def arrow(tail, head, arm1, arm2):
    # straight pointer line with an open "V" head, in page pixels
    fig.add_shape(type="line", xref="paper", yref="paper",
                  x0=px(tail[0]), y0=py(tail[1]), x1=px(head[0]), y1=py(head[1]),
                  line=dict(color="#111", width=1.1), layer="above")
    path = "M {} {} L {} {} L {} {}".format(px(arm1[0]), py(arm1[1]), px(head[0]), py(head[1]),
                                            px(arm2[0]), py(arm2[1]))
    fig.add_shape(type="path", xref="paper", yref="paper", path=path,
                  line=dict(color="#111", width=1.1), layer="above")


arrow((1220, 383), (1190, 335), (1191.2, 345.5), (1198.6, 340.6))
arrow((870, 797), (827, 755), (830.5, 764.6), (836.6, 758.4))


def label(text, xpix, ypix, size=20, angle=0, xanchor="center"):
    fig.add_annotation(text=text, x=px(xpix), y=py(ypix), xref="paper", yref="paper",
                       showarrow=False, textangle=angle, xanchor=xanchor, yanchor="middle",
                       font=dict(family=FONT, size=size, color=INK))


label("<i>\u1e8b</i>", 19, 185, size=21)
label("<i>x</i>", 355, 461, size=21)
label("PSD", 667, 207, size=20, angle=-90)
label("Frequency", 1000, 457, size=20)
label("MLE", 347, 727, size=20, angle=-90)
label("Cycles of driving force", 680, 978, size=20)
label("\u00d710<sup>3</sup>", 928, 975, size=19)
label("\u00d710<sup>\u22124</sup>", 917, 32, size=19)
label("<i>\u03c9</i>", 838, 352, size=19)
label("2<i>\u03c9</i>", 949, 355, size=19)
label(MLE_FINAL, 805, 741, size=19)
label("(a)", 319, 495, size=18)
label("(b)", 964, 495, size=18)
label("(c)", 640, 1019, size=18)

fig.write_html("out.html")
